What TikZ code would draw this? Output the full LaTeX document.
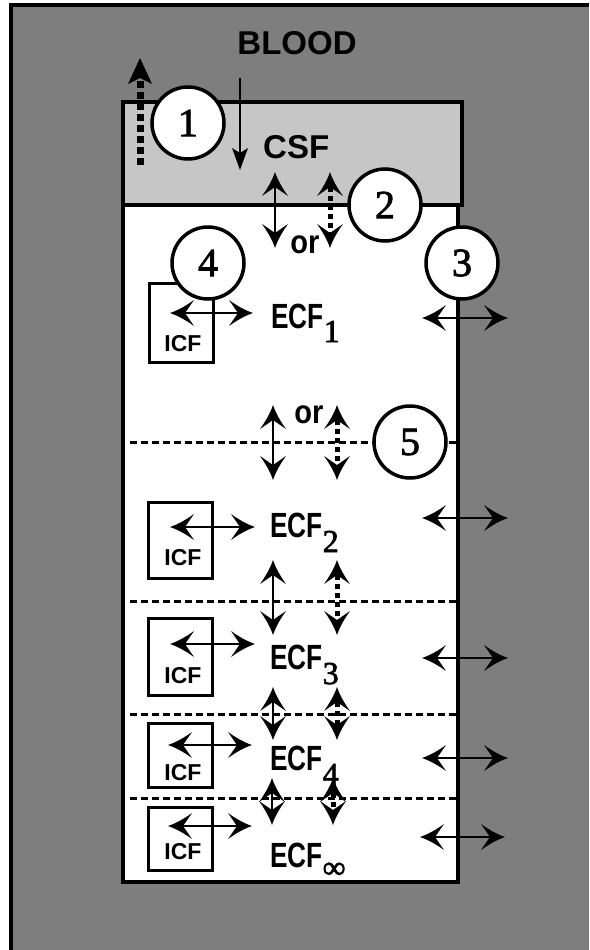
\documentclass[tikz,border=0pt]{standalone}
\usepackage{fontspec}
\setmainfont{Liberation Serif}
\newfontfamily\arial{Liberation Sans}[UprightFont=*-Bold]
\newfontfamily\serifnum{Liberation Serif}[FakeBold=2]
\definecolor{blood}{HTML}{7E7E7E}
\definecolor{csf}{HTML}{C6C6C6}
\tikzset{
  num/.style={circle, draw, line width=3.5pt, fill=white, minimum size=72pt, inner sep=0pt,
    font=\serifnum\fontsize{40}{40}\selectfont},
  icfbox/.style={draw, line width=3pt, minimum width=64pt, inner sep=0pt},
  icftext/.style={font=\arial\fontsize{23}{23}\selectfont, inner sep=0pt},
  big/.style={font=\arial\fontsize{33}{33}\selectfont, inner sep=0pt},
  pics/hd/.style={code={\fill (0pt,0pt) .. controls (-9pt,3pt) and (-17pt,8pt) .. (-24pt,13pt)
      -- (-15pt,0pt) -- (-24pt,-13pt) .. controls (-17pt,-8pt) and (-9pt,-3pt) .. (0pt,0pt) -- cycle;}},
  pics/hslim/.style={code={\fill (0pt,0pt) -- (-22pt,8pt) -- (-17pt,0pt) -- (-22pt,-8pt) -- cycle;}},
  pics/hbig/.style={code={\fill (0pt,0pt) -- (-26pt,12pt) -- (-20pt,0pt) -- (-26pt,-12pt) -- cycle;}},
  shaft/.style={line width=2.6pt, shorten <=15pt, shorten >=15pt},
  dotshaft/.style={line width=5pt, dash pattern=on 5pt off 4pt, shorten <=15pt, shorten >=15pt},
  sep/.style={line width=3pt, dash pattern=on 7pt off 4pt},
}
\newcommand{\ecf}[2]{\scalebox{0.75}[1]{\arial\fontsize{35}{35}\selectfont ECF}\raisebox{#2}{\serifnum\fontsize{32}{32}\selectfont #1}}
\newcommand{\orword}{\scalebox{0.88}[1]{\arial\fontsize{33}{33}\selectfont or}}
\begin{document}
\begin{tikzpicture}[x=1pt,y=-1pt]
\useasboundingbox (0,0) rectangle (589,950);
\fill[white] (0,0) rectangle (589,950);
% blood background
\fill[blood] (11,5) rectangle (589,950);
\draw[line width=3.5pt] (11,950) -- (11,5) -- (589,5);
% CSF and brain regions
\filldraw[fill=csf, line width=3.5pt] (123,102) rectangle (462,205);
\filldraw[fill=white, line width=3.5pt] (123,205) rectangle (458,882);
% dashed separators
\foreach \i/\y in {a/442, b/601, c/714, d/798}{
  \coordinate (sl\i) at (130,\y);
  \coordinate (sr\i) at (458,\y);
  \draw[sep] (sl\i) -- (sr\i);
}
% ICF boxes
\node[icfbox, minimum height=79pt] (box1) at (181,322.5) {};
\node[icfbox, minimum height=76pt] (box2) at (180,540) {};
\node[icfbox, minimum height=77pt] (box3) at (180,656.5) {};
\node[icfbox, minimum height=64pt] (box4) at (180,755) {};
\node[icfbox, minimum height=63pt] (box5) at (180,838.5) {};
\node[icftext] (icf1) at (183,344) {ICF};
\node[icftext] (icf2) at (183,558) {ICF};
\node[icftext] (icf3) at (183,676) {ICF};
\node[icftext] (icf4) at (183,773) {ICF};
\node[icftext] (icf5) at (183,852) {ICF};
% ICF <-> ECF arrows
\foreach \n/\y/\xa/\xb in {1/313/170/253, 2/527/170/255, 3/644/170/255, 4/745/168/252, 5/826/168/252}{
  \coordinate (ia\n) at (\xa,\y);
  \coordinate (ib\n) at (\xb,\y);
  \draw[shaft] (ia\n) -- (ib\n);
  \pic[rotate=180] at (ia\n) {hd};
  \pic at (ib\n) {hd};
}
% ECF <-> blood arrows
\foreach \n/\y/\xa/\xb in {1/318/422/508, 2/518/422/508, 3/658/422/508, 4/758/422/508, 5/837/420/505}{
  \coordinate (ra\n) at (\xa,\y);
  \coordinate (rb\n) at (\xb,\y);
  \draw[shaft] (ra\n) -- (rb\n);
  \pic[rotate=180] at (ra\n) {hd};
  \pic at (rb\n) {hd};
}
% vertical exchange arrows
\foreach \n/\ya/\yb/\xs/\xd in {a/172/248/275/330, b/405/480/273/337, c/560/635/273/337, d/687/740/273/337, e/778/825/272/333}{
  \coordinate (va\n) at (\xs,\ya);
  \coordinate (vb\n) at (\xs,\yb);
  \coordinate (da\n) at (\xd,\ya);
  \coordinate (db\n) at (\xd,\yb);
  \draw[shaft] (va\n) -- (vb\n);
  \pic[rotate=90] at (va\n) {hd};
  \pic[rotate=-90] at (vb\n) {hd};
  \draw[dotshaft] (da\n) -- (db\n);
  \pic[rotate=90] at (da\n) {hd};
  \pic[rotate=-90] at (db\n) {hd};
}
% blood -> CSF arrow
\coordinate (bt) at (240,78);
\coordinate (bb) at (240,170);
\draw[line width=1.8pt, shorten >=16pt] (bt) -- (bb);
\pic[rotate=-90] at (bb) {hslim};
% CSF -> blood dotted arrow
\coordinate (ot) at (140,165);
\coordinate (oh) at (140,58);
\draw[line width=7pt, dash pattern=on 7pt off 4pt, shorten >=19pt] (ot) -- (oh);
\pic[rotate=90] at (oh) {hbig};
% texts
\node[big, anchor=base] (blood) at (297,55) {BLOOD};
\node[big, anchor=base west] (csf) at (263,158) {CSF};
\node[anchor=base, inner sep=0pt] (or1) at (305,253) {\orword};
\node[anchor=base, inner sep=0pt] (or2) at (309,423) {\orword};
\node[anchor=base west, inner sep=0pt] (e1) at (271,328) {\ecf{1}{-14pt}};
\node[anchor=base west, inner sep=0pt] (e2) at (270,537) {\ecf{2}{-15pt}};
\node[anchor=base west, inner sep=0pt] (e3) at (270,669) {\ecf{3}{-15pt}};
\node[anchor=base west, inner sep=0pt] (e4) at (270,770) {\ecf{4}{-15pt}};
\node[anchor=base west, inner sep=0pt] (e5) at (270,867) {\ecf{∞}{-11pt}};
% numbered circles
\node[num] (c1) at (188,123) {1};
\node[num] (c2) at (385,205) {2};
\node[num] (c3) at (462,263) {3};
\node[num] (c4) at (208,263) {4};
\node[num] (c5) at (410,442) {5};
\end{tikzpicture}
\end{document}
